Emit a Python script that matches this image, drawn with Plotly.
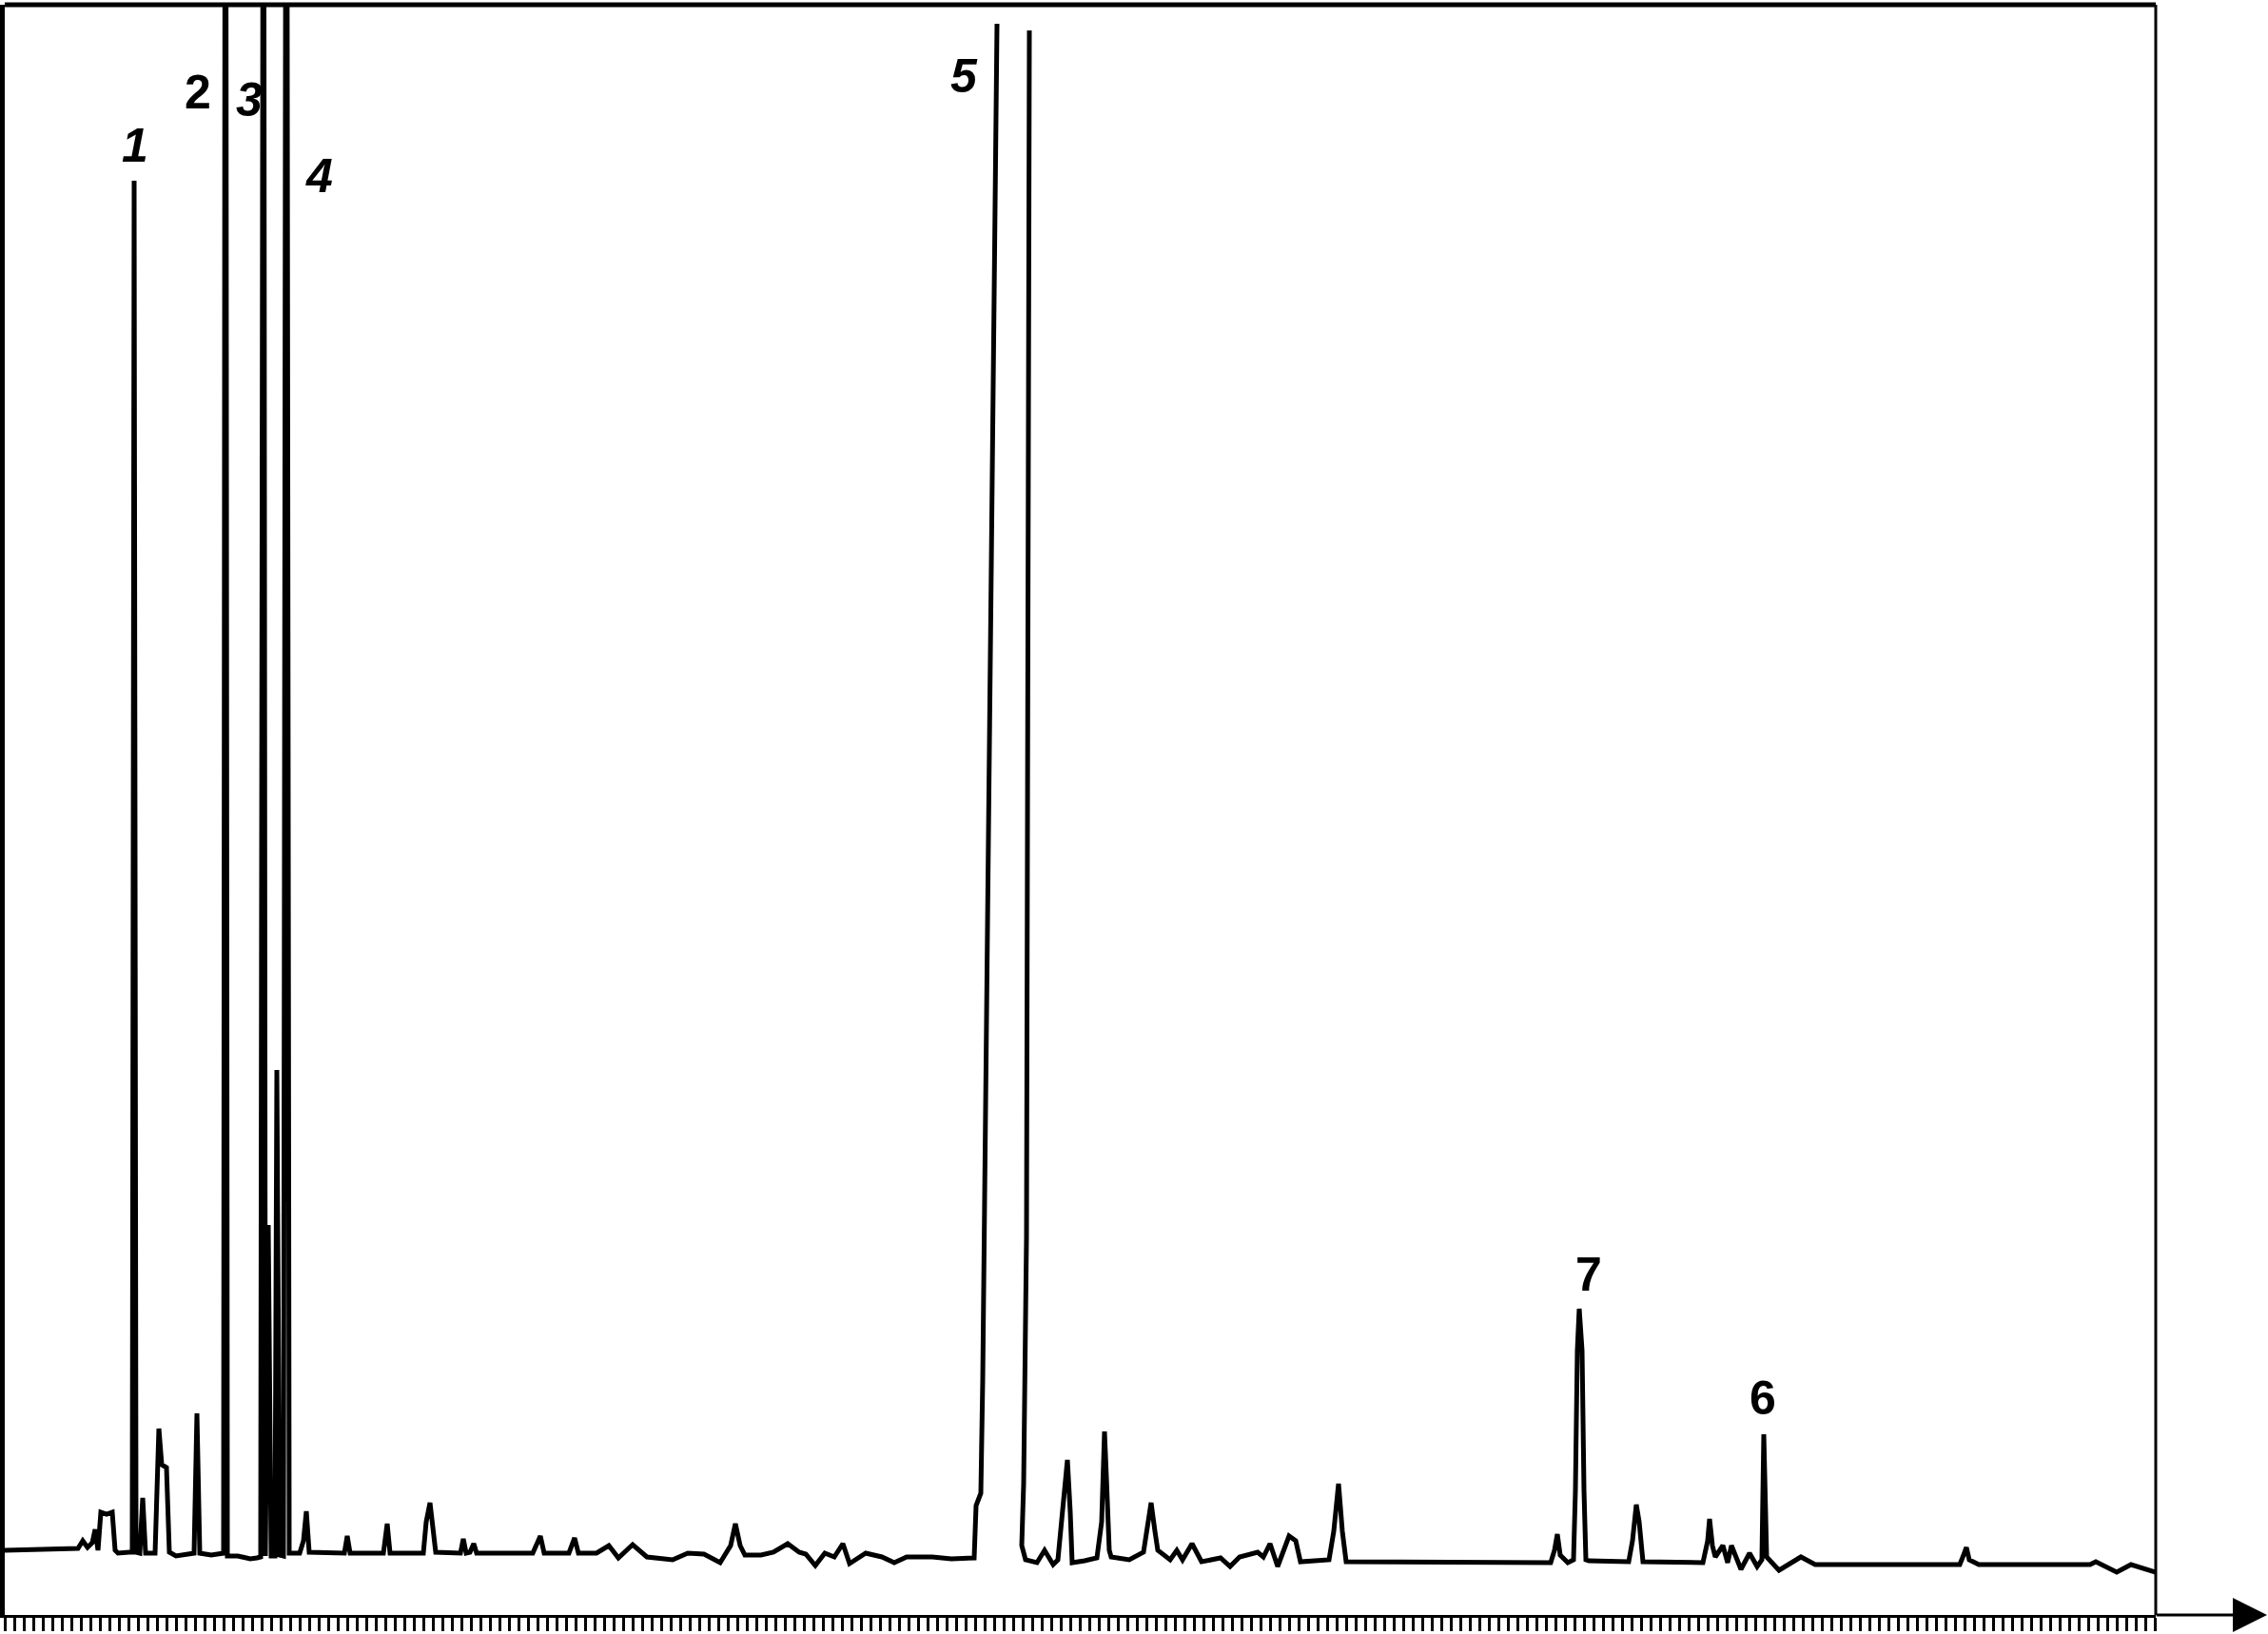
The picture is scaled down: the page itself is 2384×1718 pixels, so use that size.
import plotly.graph_objects as go

# Chromatogram trace (retention time in min, detector signal in mV).
# Segment 1: start of run up to the rising flank of the off-scale peak 5
seg1_time = [0.00, 1.30, 1.54, 1.64, 1.74, 1.84, 1.90, 1.96, 2.02, 2.14, 2.26, 2.32, 2.38,
             2.62, 2.68, 2.72, 2.76, 2.84, 2.90, 2.96, 3.16, 3.24, 3.30, 3.40, 3.46, 3.60,
             3.90, 3.98, 4.04, 4.10, 4.34, 4.54, 4.60, 4.64, 4.68, 4.90, 5.16, 5.30, 5.38,
             5.44, 5.48, 5.54, 5.60, 5.68, 5.72, 5.78, 5.86, 5.92, 5.98, 6.20, 6.28, 6.34,
             6.40, 7.14, 7.20, 7.26, 7.96, 8.04, 8.10, 8.80, 8.86, 8.94, 9.00, 9.06, 9.58,
             9.64, 9.70, 9.78, 9.86, 9.92, 11.10, 11.20, 11.26, 11.34, 11.86, 11.98, 12.06,
             12.44, 12.70, 12.90, 13.20, 13.50, 14.04, 14.36, 14.70, 15.04, 15.26, 15.36,
             15.46, 15.56, 15.90, 16.16, 16.46, 16.70, 16.84, 17.04, 17.24, 17.44, 17.62,
             17.76, 18.10, 18.44, 18.70, 18.96, 19.50, 19.90, 20.38, 20.42, 20.52, 20.56,
             20.82, 20.86]
seg1_signal = [0.1, 0.2, 0.3, 1.1, 0.4, 0.9, 2.3, 0.1, 4.1, 3.9, 4.1, 0.1, -0.2,
               -0.1, -0.1, 144.1, -0.1, -0.2, 5.6, -0.2, -0.2, 12.9, 9.1, 8.8, -0.1, -0.5,
               -0.2, -0.2, 14.5, -0.2, -0.4, -0.3, -0.2, 240.0, -0.5, -0.5, -0.8, -0.7, -0.6,
               220.0, -0.5, 34.3, -0.5, -0.5, 50.6, -0.4, -0.5, 230.0, -0.2, -0.2, 1.1, 4.2,
               -0.1, -0.2, 1.6, -0.2, -0.2, 2.9, -0.2, -0.2, 3.1, 5.1, 2.6, -0.1, -0.2,
               1.3, -0.2, -0.1, 0.8, -0.2, -0.2, 0.9, 1.6, -0.2, -0.2, 1.4, -0.2,
               -0.2, 0.6, -0.7, 0.7, -0.6, -0.9, -0.2, -0.3, -1.2, 0.6, 2.9,
               0.6, -0.4, -0.4, -0.1, 0.8, -0.1, -0.3, -1.5, -0.2, -0.6, 0.8,
               -1.3, -0.2, -0.6, -1.2, -0.6, -0.6, -0.8, -0.7, 4.8, 6.1, 18.1,
               143.1, 160.6]

# Segment 2: falling flank of peak 5 to the end of the run
seg2_time = [21.54, 21.48, 21.42, 21.38, 21.46, 21.70, 21.86, 22.04, 22.14, 22.26, 22.34,
             22.40, 22.44, 22.70, 22.96, 23.06, 23.12, 23.16, 23.22, 23.26, 23.64, 23.94,
             24.04, 24.10, 24.18, 24.24, 24.50, 24.64, 24.76, 24.96, 25.16, 25.56, 25.76,
             25.96, 26.34, 26.46, 26.60, 26.76, 27.00, 27.14, 27.24, 27.84, 27.94, 28.04,
             28.12, 28.20, 32.50, 32.58, 32.64, 32.70, 32.86, 32.98, 33.02, 33.06, 33.10,
             33.16, 33.20, 33.24, 33.30, 34.14, 34.22, 34.30, 34.36, 34.44, 35.70, 35.80,
             35.84, 35.90, 35.96, 36.12, 36.22, 36.30, 36.50, 36.68, 36.84, 36.94, 36.98,
             37.04, 37.30, 37.76, 38.06, 41.10, 41.18, 41.24, 41.30, 41.50, 43.84, 43.96,
             44.40, 44.70, 45.22]
seg2_signal = [159.9, 33.1, 7.1, 0.6, -0.9, -1.2, 0.1, -1.4, -0.9, 5.1, 9.6,
               4.1, -1.2, -1.0, -0.7, 3.1, 12.6, 7.8, 0.1, -0.6, -0.9, -0.1,
               3.1, 5.1, 2.1, 0.1, -0.9, 0.1, -0.9, 0.8, -1.1, -0.7, -1.6,
               -0.6, -0.1, -0.6, 0.8, -1.6, 1.6, 1.1, -1.1, -0.9, 2.1, 7.1,
               2.1, -1.1, -1.2, 0.1, 1.8, -0.4, -1.2, -0.9, 6.4, 21.1, 25.5,
               21.1, 6.4, -0.9, -1.0, -1.1, 1.1, 4.9, 3.1, -1.1, -1.2, 1.1,
               3.4, 0.6, -0.6, 0.6, -1.2, 0.6, -1.9, -0.2, -1.6, -0.9, 12.3,
               -0.6, -2.0, -0.6, -1.4, -1.4, -0.4, 0.4, -0.9, -1.4, -1.4, -1.1,
               -2.2, -1.4, -2.2]

# Peak number labels
label_text = ["1", "2", "3", "4", "5", "7", "6"]
label_time = [2.74, 4.06, 5.14, 6.60, 20.16, 33.30, 36.96]
label_signal = [147.8, 153.4, 152.6, 144.6, 155.1, 29.1, 16.1]
label_italic = [True, False, True, True, True, False, False]

time_range = [0.0, 45.22]
signal_range = [-6.7, 162.6]

x_all = seg1_time + [None] + seg2_time
y_all = seg1_signal + [None] + seg2_signal

fig = go.Figure()
fig.add_trace(go.Scatter(
    x=x_all, y=y_all, mode="lines",
    line=dict(color="black", width=5),
    connectgaps=False, hoverinfo="skip", showlegend=False,
))

for txt, t, s, it in zip(label_text, label_time, label_signal, label_italic):
    fig.add_annotation(
        x=t, y=s, xref="x", yref="y", text=txt, showarrow=False,
        font=dict(family="Liberation Sans, Arial, sans-serif", size=50, color="black",
                  weight="bold", style="italic" if it else "normal"),
        xanchor="center", yanchor="middle",
    )

# frame: top and right edges
fig.add_shape(type="line", xref="paper", yref="paper", x0=0, x1=1, y0=1, y1=1,
              line=dict(color="black", width=5))
fig.add_shape(type="line", xref="paper", yref="paper", x0=1, x1=1, y0=0, y1=1,
              line=dict(color="black", width=3))

# time axis arrow extending past the frame
fig.add_annotation(
    x=1.0518, y=0, xref="paper", yref="paper", ax=-118, ay=0,
    axref="pixel", ayref="pixel", text="", showarrow=True,
    arrowhead=2, arrowsize=2.4, arrowwidth=3, arrowcolor="black",
)

fig.update_layout(
    width=2384, height=1718,
    margin=dict(l=5, r=118, t=5, b=20),
    paper_bgcolor="white", plot_bgcolor="white",
    showlegend=False,
    xaxis=dict(range=time_range, showgrid=False, zeroline=False, showticklabels=False,
               showline=True, linecolor="black", linewidth=3,
               ticks="outside", tick0=0, dtick=0.2, ticklen=14, tickwidth=3,
               tickcolor="black"),
    yaxis=dict(range=signal_range, showgrid=False, zeroline=False, showticklabels=False,
               showline=True, linecolor="black", linewidth=5, ticks=""),
)

fig.write_html("out.html", config={"displayModeBar": False},
               post_script="document.body.style.margin='0';")
